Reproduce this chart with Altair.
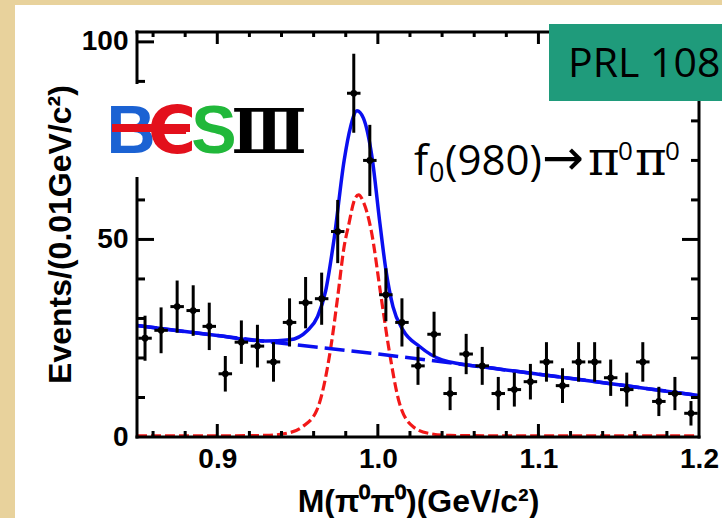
import altair as alt
import pandas as pd

# ---------------- data ----------------
mass = [0.855, 0.865, 0.875, 0.885, 0.895, 0.905, 0.915, 0.925, 0.935, 0.945,
        0.955, 0.965, 0.975, 0.985, 0.995, 1.005, 1.015, 1.025, 1.035, 1.045,
        1.055, 1.065, 1.075, 1.085, 1.095, 1.105, 1.115, 1.125, 1.135, 1.145,
        1.155, 1.165, 1.175, 1.185, 1.195]
events = [25, 27, 33, 32, 28, 16, 24, 23, 19, 29,
          34, 35, 52, 87, 70, 36, 29, 18, 26, 11,
          21, 18, 11, 12, 14, 19, 13, 19, 19, 15,
          12, 19, 9, 11, 6]
errors = [5.7, 5.8, 6.6, 6.4, 6.0, 4.5, 5.5, 5.4, 5.0, 6.1,
          6.5, 6.6, 8.0, 10.0, 9.0, 6.7, 6.1, 4.8, 5.7, 4.2,
          5.1, 4.8, 4.2, 4.3, 4.5, 5.0, 4.4, 5.0, 5.0, 4.6,
          4.3, 5.0, 3.7, 4.2, 3.1]
bin_half = 0.0042

bkg_x = [0.85, 0.93, 1.0, 1.1, 1.2]
bkg_y = [28.2, 24.2, 21.0, 15.9, 10.5]

sig_x = [0.85, 0.90, 0.93, 0.945, 0.953, 0.962, 0.9706, 0.975, 0.979, 0.982, 0.985,
         0.988, 0.991, 0.9958, 1.002, 1.007, 1.0135, 1.022, 1.032, 1.045, 1.08, 1.2]
sig_y = [0.3, 0.3, 0.4, 1.1, 2.6, 6.8, 22.4, 35.5, 48.2, 54.0, 59.5,
         61.3, 59.5, 52.4, 35.5, 22.0, 8.5, 2.6, 0.9, 0.4, 0.3, 0.3]

tot_x = [0.85, 0.90, 0.93, 0.945, 0.956, 0.9625, 0.9675, 0.9727, 0.979, 0.983, 0.987,
         0.991, 0.9963, 1.0013, 1.005, 1.0094, 1.0156, 1.026, 1.04, 1.07, 1.1, 1.15, 1.2]
tot_y = [28.2, 25.7, 24.3, 24.6, 26.9, 30.5, 37.0, 50.0, 70.0, 78.5, 82.6,
         80.7, 71.0, 54.0, 42.3, 33.0, 27.1, 22.9, 19.5, 17.5, 15.9, 13.2, 10.5]

x_major = [0.9, 1.0, 1.1]
x_minor = [0.86, 0.88, 0.92, 0.94, 0.96, 0.98, 1.02, 1.04, 1.06, 1.08, 1.12, 1.14, 1.16, 1.18]
x_labels = [0.9, 1.0, 1.1, 1.2]
y_major = [50, 100]
y_minor = [10, 20, 30, 40, 60, 70, 80, 90]
y_labels = [0, 50, 100]

# ---------------- styling ----------------
W, H = 562, 405
PADL, PADT = 137, 32
PARCH = "#e8d29c"
BLUE = "#0a0ff0"
RED = "#f21818"
GREEN_BOX = "#1f9b7b"
SANS = "Liberation Sans"

xs = alt.Scale(domain=[0.85, 1.2], nice=False, zero=False)
ys = alt.Scale(domain=[0, 102.5], nice=False, zero=False)

XAX = alt.Axis(values=x_labels, format=".1f", grid=False, domain=False, ticks=False, tickSize=0,
               labelFont=SANS, labelFontSize=28, labelFontWeight="bold", labelColor="black",
               labelPadding=8, labelFlush=False, labelOverlap=False, zindex=5,
               title="M(π⁰π⁰)(GeV/c²)", titleFont=SANS, titleFontSize=32, titleFontWeight="bold",
               titleColor="black", titleX=281, titleY=74, titleAlign="center",
               titleBaseline="alphabetic")
YAX = alt.Axis(values=y_labels, format="d", grid=False, domain=False, ticks=False, tickSize=0,
               labelFont=SANS, labelFontSize=28, labelFontWeight="bold", labelColor="black",
               labelPadding=9, labelFlush=False, labelOverlap=False, zindex=5,
               title="Events/(0.01GeV/c²)", titleFont=SANS, titleFontSize=32,
               titleFontWeight="bold", titleColor="black", titleAngle=270, titleX=-77,
               titleY=202, titleAlign="center", titleBaseline="middle")

pts = pd.DataFrame({"m": mass, "n": events, "e": errors})
pts["lo"] = pts["n"] - pts["e"]
pts["hi"] = pts["n"] + pts["e"]
pts["l"] = pts["m"] - bin_half
pts["r"] = pts["m"] + bin_half

one = pd.DataFrame({"k": [0]})


def X(field):
    return alt.X(field, type="quantitative", scale=xs, axis=XAX)


def Y(field):
    return alt.Y(field, type="quantitative", scale=ys, axis=YAX)


def pix_rect(x1, x2, y1, y2, color):
    return alt.Chart(one).mark_rect(color=color).encode(
        x=alt.value(x1 - PADL), x2=alt.value(x2 - PADL),
        y=alt.value(y1 - PADT), y2=alt.value(y2 - PADT))


def txt(s, x, y, size, font, color="black", weight="normal", align="left",
        baseline="alphabetic"):
    return alt.Chart(pd.DataFrame({"t": [s]})).mark_text(
        font=font, fontSize=size, fontWeight=weight, color=color, align=align,
        baseline=baseline).encode(text="t:N", x=alt.value(x - PADL), y=alt.value(y - PADT))


layers = []
# white page over parchment
layers.append(pix_rect(15, 722, 5, 518, "white"))

# curves
sig_df = pd.DataFrame({"x": sig_x, "y": sig_y})
bkg_df = pd.DataFrame({"x": bkg_x, "y": bkg_y})
tot_df = pd.DataFrame({"x": tot_x, "y": tot_y})
layers.append(alt.Chart(sig_df).mark_line(color=RED, strokeWidth=3.2, strokeDash=[10, 4],
                                          interpolate="monotone").encode(x=X("x"), y=Y("y")))
layers.append(alt.Chart(bkg_df).mark_line(color=BLUE, strokeWidth=3.5, strokeDash=[20, 7],
                                          interpolate="monotone").encode(x=X("x"), y=Y("y")))
layers.append(alt.Chart(tot_df).mark_line(color=BLUE, strokeWidth=3.5,
                                          interpolate="monotone").encode(x=X("x"), y=Y("y")))

# data points with error bars
layers.append(alt.Chart(pts).mark_rule(color="black", strokeWidth=3).encode(
    x=X("m"), y=Y("lo"), y2="hi"))
layers.append(alt.Chart(pts).mark_rule(color="black", strokeWidth=3).encode(
    x=X("l"), x2="r", y=Y("n")))
layers.append(alt.Chart(pts).mark_point(filled=True, color="black", size=45, opacity=1).encode(
    x=X("m"), y=Y("n")))

# frame
for (x1, x2, y1, y2) in [(0, W, H, H), (0, W, 0, 0), (0, 0, 0, H), (W, W, 0, H)]:
    layers.append(alt.Chart(one).mark_rule(color="black", strokeWidth=3, strokeCap="square").encode(
        x=alt.value(x1), x2=alt.value(x2), y=alt.value(y1), y2=alt.value(y2)))

# inward ticks
for vals, blen, tlen in [(x_major, 13, 12), (x_minor, 6, 5)]:
    d = pd.DataFrame({"t": vals})
    layers.append(alt.Chart(d).mark_rule(color="black", strokeWidth=3).encode(
        x=X("t"), y=alt.value(H), y2=alt.value(H - blen)))
    layers.append(alt.Chart(d).mark_rule(color="black", strokeWidth=3).encode(
        x=X("t"), y=alt.value(0), y2=alt.value(tlen)))
for vals, ln in [(y_major, 17), (y_minor, 8)]:
    d = pd.DataFrame({"t": vals})
    layers.append(alt.Chart(d).mark_rule(color="black", strokeWidth=3).encode(
        y=Y("t"), x=alt.value(0), x2=alt.value(ln)))
    layers.append(alt.Chart(d).mark_rule(color="black", strokeWidth=3).encode(
        y=Y("t"), x=alt.value(W), x2=alt.value(W - ln)))

# BESIII logo (white backing hides the axis line)
layers.append(pix_rect(104, 300, 84, 177, "white"))
LOGO_FONT = "Liberation Sans"
LB = 153
LS = 68
layers.append(txt("B", 131, LB, LS, LOGO_FONT, color="#1b62d3", weight="bold", align="center"))
layers.append(txt("Є", 172, LB, 66, "DejaVu Sans", color="#e3101c", weight="bold", align="center"))
layers.append(txt("S", 214, LB, LS, LOGO_FONT, color="#21b83a", weight="bold", align="center"))
layers.append(txt("Ⅲ", 269, LB, 62, "DejaVu Serif", color="black", weight="bold", align="center"))
layers.append(pix_rect(112, 190, 124, 132, "#e3101c"))

# f0(980) -> pi0 pi0
OS = "Open Sans"
layers.append(txt("f", 414, 175, 42, OS))
layers.append(txt("0", 429, 182, 27, OS))
layers.append(txt("(980)", 445, 175, 42, OS))
layers.append(txt("→", 542, 175, 50, "DejaVu Sans"))
layers.append(txt("π", 588, 175, 48, "DejaVu Serif"))
layers.append(txt("0", 618, 160, 26, OS))
layers.append(txt("π", 635, 175, 48, "DejaVu Serif"))
layers.append(txt("0", 665, 160, 26, OS))

# PRL box
layers.append(pix_rect(549, 722, 24, 101, GREEN_BOX))
layers.append(txt("PRL 108", 568, 77, 41, OS))

chart = alt.layer(*layers).properties(
    width=W, height=H,
    autosize=alt.AutoSizeParams(type="none"),
    padding={"left": PADL, "top": PADT, "right": 722 - PADL - W, "bottom": 518 - PADT - H},
    background=PARCH,
).configure_view(stroke=None)

chart.save("out.html", embed_options={"renderer": "svg", "actions": False})
